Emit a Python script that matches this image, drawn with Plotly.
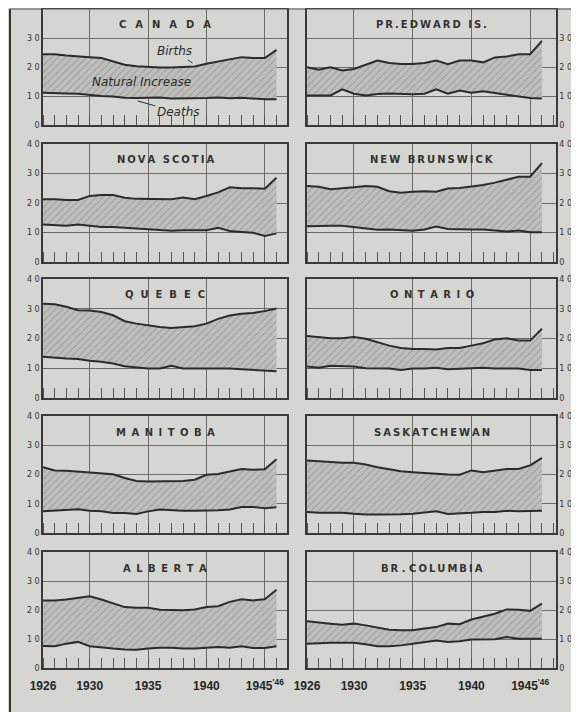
import plotly.graph_objects as go
from plotly.subplots import make_subplots

years = list(range(1926, 1947))

titles = ["CANADA", "PR.EDWARD IS.", "NOVA SCOTIA", "NEW BRUNSWICK", "QUEBEC",
          "ONTARIO", "MANITOBA", "SASKATCHEWAN", "ALBERTA", "BR.COLUMBIA"]

births_canada = [24.4, 24.4, 24.0, 23.6, 23.4, 23.1, 21.9, 20.8, 20.3, 20.0, 19.8,
                 19.8, 19.9, 20.2, 21.1, 21.9, 22.8, 23.4, 23.1, 23.1, 25.9]
deaths_canada = [11.1, 10.9, 10.9, 10.8, 10.3, 10.0, 9.8, 9.4, 9.3, 9.4, 9.5,
                 9.1, 9.1, 9.2, 9.3, 9.5, 9.2, 9.4, 9.1, 8.9, 8.9]

births_pei = [19.9, 19.1, 19.9, 18.8, 19.3, 20.8, 22.2, 21.4, 21.0, 21.0, 21.4,
              22.2, 21.0, 22.2, 22.2, 21.6, 23.3, 23.6, 24.4, 24.4, 29.0]
deaths_pei = [10.2, 10.2, 10.2, 12.3, 10.8, 10.2, 10.7, 10.9, 10.7, 10.6, 10.8,
              12.3, 10.8, 11.9, 11.1, 11.6, 11.0, 10.5, 10.0, 9.3, 9.1]

births_ns = [21.3, 21.3, 21.0, 21.0, 22.4, 22.7, 22.7, 21.8, 21.4, 21.4, 21.4,
             21.3, 21.9, 21.3, 22.4, 23.6, 25.3, 25.0, 25.0, 24.8, 28.6]
deaths_ns = [12.7, 12.5, 12.3, 12.7, 12.3, 11.9, 11.9, 11.6, 11.4, 11.1, 10.8,
             10.6, 10.8, 10.8, 10.8, 11.6, 10.5, 10.2, 9.9, 8.8, 9.7]

births_nb = [25.8, 25.5, 24.7, 24.9, 25.3, 25.8, 25.5, 24.0, 23.5, 23.8, 24.0,
             23.8, 24.9, 25.1, 25.5, 26.1, 26.9, 27.8, 28.9, 28.9, 33.5]
deaths_nb = [12.1, 12.3, 12.3, 12.3, 11.8, 11.2, 10.9, 11.0, 10.7, 10.6, 11.0,
             12.0, 11.2, 11.0, 11.0, 11.0, 10.7, 10.3, 10.7, 10.1, 10.1]

births_que = [31.7, 31.5, 30.7, 29.5, 29.4, 28.9, 27.8, 25.8, 25.0, 24.4, 23.9,
              23.5, 23.8, 24.1, 25.0, 26.6, 27.7, 28.3, 28.6, 29.2, 30.1]
deaths_que = [13.9, 13.5, 13.3, 13.1, 12.5, 12.2, 11.6, 10.7, 10.2, 9.9, 9.9,
              10.8, 9.9, 9.9, 9.9, 10.1, 9.9, 9.7, 9.5, 9.1, 9.0]

births_ont = [20.8, 20.5, 20.1, 20.1, 20.5, 19.9, 18.8, 17.6, 16.8, 16.5, 16.5,
              16.3, 16.8, 16.8, 17.6, 18.4, 19.7, 20.1, 19.3, 19.3, 23.3]
deaths_ont = [10.6, 10.2, 10.8, 10.8, 10.6, 10.0, 10.0, 9.9, 9.4, 9.9, 9.9,
              10.2, 9.7, 9.9, 9.9, 10.2, 9.9, 10.0, 9.9, 9.4, 9.4]

births_man = [22.5, 21.4, 21.3, 21.0, 20.7, 20.5, 20.1, 18.8, 17.8, 17.6, 17.6,
              17.6, 17.8, 18.2, 19.9, 20.2, 21.0, 21.9, 21.6, 21.8, 25.2]
deaths_man = [7.4, 7.6, 7.8, 8.1, 7.6, 7.4, 6.8, 6.8, 6.5, 7.4, 8.0,
              7.7, 7.6, 7.6, 7.6, 7.8, 8.0, 8.9, 8.9, 8.5, 8.8]

births_sask = [24.8, 24.5, 24.2, 24.0, 24.0, 23.4, 22.5, 21.7, 21.1, 20.8, 20.5,
               20.2, 20.0, 19.9, 21.4, 20.8, 21.4, 21.9, 21.9, 23.1, 25.7]
deaths_sask = [7.2, 6.9, 6.9, 6.9, 6.6, 6.3, 6.3, 6.3, 6.4, 6.6, 6.9,
               7.4, 6.5, 6.6, 6.9, 7.2, 7.2, 7.6, 7.4, 7.5, 7.6]

births_alta = [23.3, 23.3, 23.6, 24.1, 24.7, 23.6, 22.4, 21.0, 20.8, 20.8, 20.1,
               19.9, 19.9, 20.2, 21.0, 21.3, 22.8, 23.7, 23.3, 23.7, 27.0]
deaths_alta = [7.6, 7.5, 8.4, 9.0, 7.5, 7.0, 6.7, 6.4, 6.3, 6.7, 7.0,
               7.0, 6.7, 6.7, 6.9, 7.2, 7.0, 7.5, 6.9, 6.9, 7.5]

births_bc = [16.1, 15.6, 15.3, 14.9, 15.3, 14.7, 13.9, 13.2, 13.0, 13.0, 13.6,
             14.1, 15.3, 15.1, 16.7, 17.8, 18.7, 20.2, 20.1, 19.7, 22.2]
deaths_bc = [8.4, 8.6, 8.7, 8.7, 8.7, 8.2, 7.5, 7.5, 7.8, 8.4, 9.0,
             9.5, 9.0, 9.2, 9.8, 9.8, 9.9, 10.7, 10.1, 10.1, 10.1]

x_tick_vals = [1926, 1930, 1935, 1940, 1945]
x_tick_text = ["1926", "1930", "1935", "1940", "1945<sup>'46</sup>"]
y_tick_vals = [0, 10, 20, 30, 40]
y_tick_text = ["0", "1 0", "2 0", "3 0", "4 0"]

births_all = [births_canada, births_pei, births_ns, births_nb, births_que,
              births_ont, births_man, births_sask, births_alta, births_bc]
deaths_all = [deaths_canada, deaths_pei, deaths_ns, deaths_nb, deaths_que,
              deaths_ont, deaths_man, deaths_sask, deaths_alta, deaths_bc]

W, H = 579, 712
OFF = 8  # page margin of the browser body
NB = "\u00a0"
TH = "\u2009"


def spaced(text, sep):
    return sep.join(list(text.replace(" ", NB)))


def px_x(p):
    return (p - OFF) / W


def px_y(p):
    return 1 - (p - OFF) / H


title_display = [
    spaced("CANADA", NB + NB + TH),
    spaced("PR.EDWARD IS.", TH),
    spaced("NOVA SCOTIA", TH),
    spaced("NEW BRUNSWICK", TH),
    spaced("QUEBEC", NB + NB),
    spaced("ONTARIO", NB + TH),
    spaced("MANITOBA", NB + TH),
    spaced("SASKATCHEWAN", TH),
    spaced("ALBERTA", NB + TH),
    "B" + TH + "R" + NB + "." + NB + spaced("COLUMBIA", TH),
]

col_px = [(43, 287), (307, 556)]
col_xrange = [[1926, 1946.9], [1926, 1947.2]]
row_px = [(9, 125), (144, 262), (279, 398), (416, 533), (552, 668)]

BG = "#d5d6d1"
INK = "#2b2b2b"
GRID = "#6b6c68"

fig = make_subplots(rows=5, cols=2)

for i in range(10):
    r, c = i // 2 + 1, i % 2 + 1
    fig.add_trace(go.Scatter(x=years, y=deaths_all[i], mode="lines",
                             line=dict(color=INK, width=2), hoverinfo="skip",
                             showlegend=False), row=r, col=c)
    fig.add_trace(go.Scatter(x=years, y=births_all[i], mode="lines",
                             line=dict(color=INK, width=2), fill="tonexty",
                             fillcolor="#bebfba",
                             fillpattern=dict(shape="/", bgcolor="#bfc0bb",
                                              fgcolor="#858681", size=5,
                                              solidity=0.25),
                             hoverinfo="skip", showlegend=False), row=r, col=c)

annotations = []
for i in range(10):
    r, c = i // 2, i % 2
    n = i + 1
    xa = "xaxis" if n == 1 else f"xaxis{n}"
    ya = "yaxis" if n == 1 else f"yaxis{n}"
    x0, x1 = col_px[c]
    t, b = row_px[r]
    bottom = r == 4
    fig.layout[xa].update(
        domain=[px_x(x0), px_x(x1)], range=col_xrange[c], automargin=False,
        showline=True, mirror=True, linecolor="#3a3a3a", linewidth=1.5,
        showgrid=True, gridcolor=GRID, gridwidth=1,
        tickvals=x_tick_vals, ticktext=x_tick_text, ticks="",
        showticklabels=bottom, ticklabelstandoff=6,
        tickfont=dict(family="Liberation Sans", size=12, color="#262626",
                      weight="bold"),
        minor=dict(dtick=1, tick0=1926, ticks="inside", ticklen=10,
                   tickcolor="#555555", tickwidth=1, showgrid=False),
        zeroline=False, fixedrange=True,
    )
    tv = y_tick_vals[:-1] if i == 0 else y_tick_vals
    tt = y_tick_text[:-1] if i == 0 else y_tick_text
    fig.layout[ya].update(
        domain=[px_y(b), px_y(t)], range=[0, 40], automargin=False,
        showline=True, mirror=True, linecolor="#3a3a3a", linewidth=1.5,
        showgrid=True, gridcolor=GRID, gridwidth=1,
        tickvals=tv, ticktext=tt, ticks="",
        side="left" if c == 0 else "right",
        tickfont=dict(family="DejaVu Sans", size=8, color="#333333"),
        zeroline=False, fixedrange=True,
    )
    annotations.append(dict(
        text="<b>" + title_display[i] + "</b>",
        xref="paper", yref="paper",
        x=px_x((x0 + x1) / 2), y=px_y(t + 16),
        showarrow=False, xanchor="center", yanchor="middle",
        font=dict(family="DejaVu Sans", size=10, color="#333333"),
    ))

lab_font = dict(family="DejaVu Sans", size=12, color="#2b2b2b")
annotations += [
    dict(text="<i>Births</i>", xref="x", yref="y", x=1938.8, y=21.4,
         ax=1937.3, ay=25.4, axref="x", ayref="y", showarrow=True,
         arrowhead=0, arrowwidth=1, arrowcolor="#2b2b2b", font=lab_font),
    dict(text="<i>Natural Increase</i>", xref="x", yref="y", x=1934.4, y=14.8,
         showarrow=False, font=lab_font),
    dict(text="<i>Deaths</i>", xref="x", yref="y", x=1934.1, y=8.3,
         ax=1937.6, ay=4.4, axref="x", ayref="y", showarrow=True,
         arrowhead=0, arrowwidth=1, arrowcolor="#2b2b2b", font=lab_font),
]

shapes = [
    dict(type="line", xref="paper", yref="paper", x0=px_x(10), x1=px_x(10),
         y0=0, y1=px_y(9), line=dict(color="#333333", width=2)),
    dict(type="line", xref="paper", yref="paper", x0=px_x(10), x1=1,
         y0=px_y(9), y1=px_y(9), line=dict(color="#555555", width=1)),
]

fig.update_layout(
    width=W, height=H, margin=dict(l=0, r=0, t=0, b=0, autoexpand=False),
    paper_bgcolor=BG, plot_bgcolor=BG,
    annotations=annotations, shapes=shapes, showlegend=False,
)

fig.write_html("out.html")
